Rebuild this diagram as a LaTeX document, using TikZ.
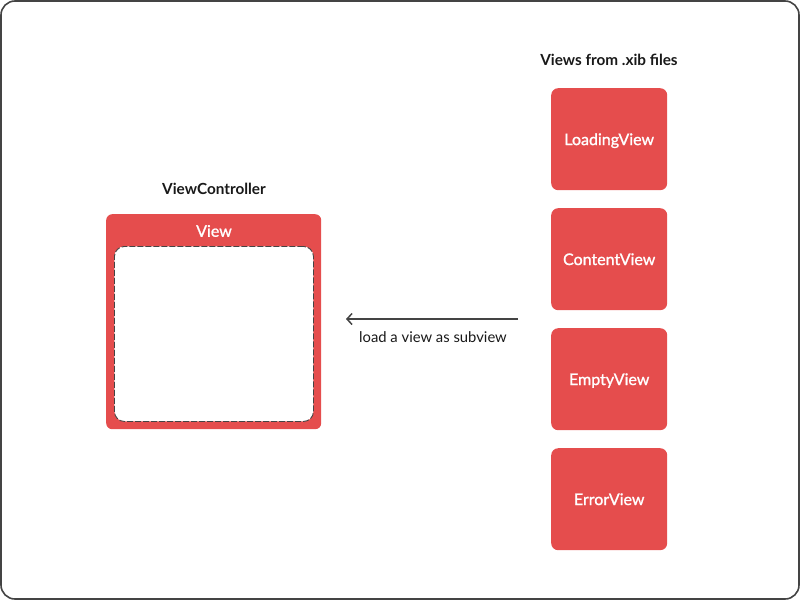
\documentclass[tikz,border=0pt]{standalone}
\usepackage{fontspec}
\setmainfont{Lato}
\newfontfamily\latomed[RawFeature={embolden=1.2}]{Lato}
\usetikzlibrary{arrows.meta}
\definecolor{vred}{HTML}{E54D4D}
\definecolor{lgray}{HTML}{444444}
\begin{document}
\begin{tikzpicture}[x=1pt,y=-1pt,
  redbox/.style={fill=vred,draw=none,rounded corners=7pt,minimum width=116pt,minimum height=102pt,text=white,font=\latomed\fontsize{16}{19}\selectfont,anchor=north west,inner sep=0pt,text depth=0pt},
  title/.style={font=\bfseries\fontsize{15.3}{18}\selectfont,text=black!90}]
\useasboundingbox (0,0) rectangle (800,600);
\draw[lgray,line width=1.6pt,rounded corners=14pt] (1,1) rectangle (799,599);
% left
\node[title] (vctitle) at (214,189) {ViewController};
\node[fill=vred,rounded corners=6pt,minimum width=215pt,minimum height=215pt,anchor=north west,inner sep=0pt] (vc) at (106,214) {};
\node[text=white,font=\latomed\fontsize{16}{19}\selectfont] (viewlbl) at (214,231) {View};
\node[fill=white,draw=lgray,dash pattern=on 6pt off 2pt,line width=0.9pt,rounded corners=10pt,minimum width=199pt,minimum height=175pt,anchor=north west,inner sep=0pt] (inner) at (114,246) {};
% right
\node[title] (xtitle) at (609,60) {Views from .xib files};
\node[redbox] (loading) at (551,88) {LoadingView};
\node[redbox] (content) at (551,208) {ContentView};
\node[redbox] (empty) at (551,328) {EmptyView};
\node[redbox] (error) at (551,448) {ErrorView};
% arrow
\coordinate (astart) at (518,319);
\coordinate (aend) at (346,319);
\draw[lgray,line width=1.5pt,-{Straight Barb[length=5pt,width=11pt]}] (astart) -- (aend);
\node[font=\fontsize{14.8}{17}\selectfont,text=black!90] (alabel) at (433,337) {load a view as subview};
\end{tikzpicture}
\end{document}
